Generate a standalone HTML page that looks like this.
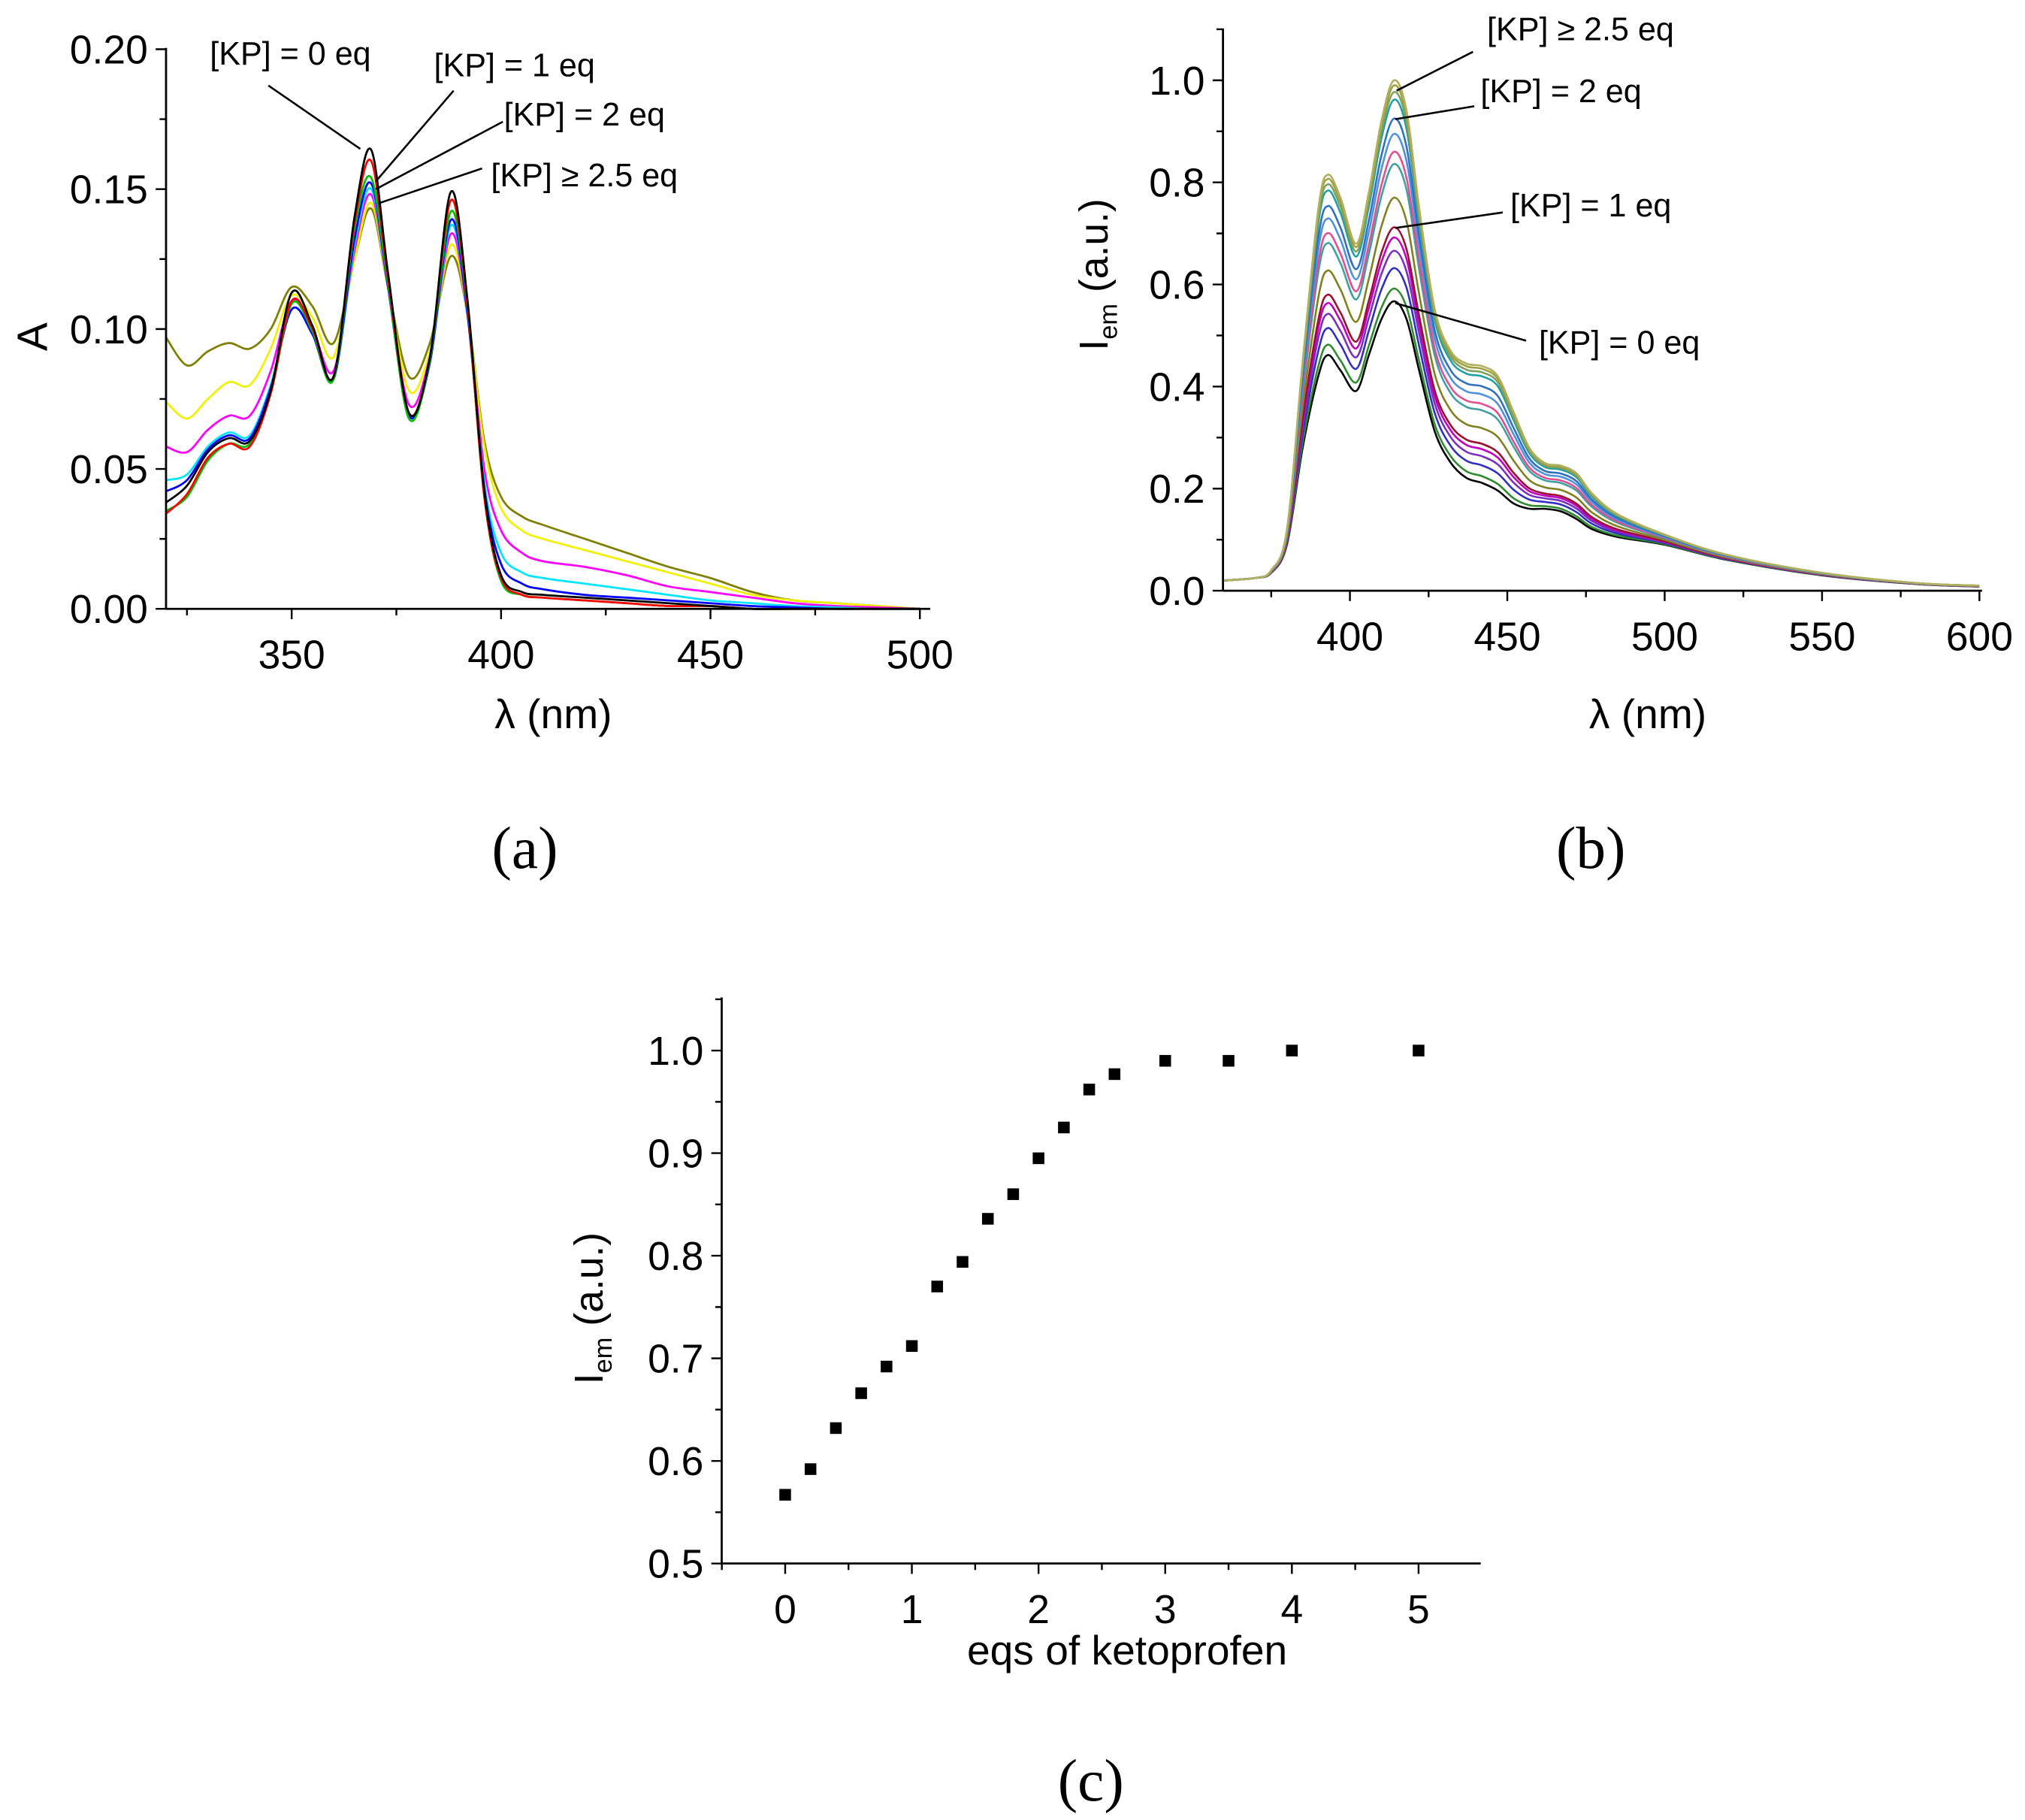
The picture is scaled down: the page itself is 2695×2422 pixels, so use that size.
<!DOCTYPE html>
<html><head><meta charset="utf-8"><style>
html,body{margin:0;padding:0;background:#fff}
svg{display:block}
text{font-family:"Liberation Sans",sans-serif;fill:#000}
.cap{font-family:"Liberation Serif",serif}
</style></head><body>
<svg id="fig" width="2695" height="2422" viewBox="0 0 1563 1405">
<g id="pa"></g>
<g id="pb"></g>
<g id="pc"></g>
<text class="cap" x="405" y="670" font-size="46" text-anchor="middle">(a)</text>
<text class="cap" x="1228" y="670" font-size="46" text-anchor="middle">(b)</text>
<text class="cap" x="842" y="1390" font-size="46" text-anchor="middle">(c)</text>
</svg>
<script>
// ---------- Panel A data ----------
const waveA=[320,325,330,335,340,345,350,355,360,365,369,373,378,383,388,392,396,400,405,410,420,430,440,450,460,470,480,490,500];
const absOlive=[.097,.087,.092,.095,.093,.100,.115,.108,.095,.125,.143,.115,.083,.095,.126,.105,.060,.040,.033,.030,.025,.020,.015,.011,.006,.003,.002,.001,0];
const absYellow=[.074,.068,.075,.081,.080,.093,.112,.104,.090,.125,.145,.115,.078,.092,.130,.105,.058,.036,.028,.025,.021,.017,.013,.009,.005,.003,.002,.001,0];
const absMagenta=[.058,.056,.064,.069,.069,.085,.110,.100,.085,.128,.148,.115,.073,.090,.134,.105,.050,.028,.020,.017,.015,.012,.008,.006,.004,.002,.001,.0005,0];
const absCyan=[.046,.048,.058,.063,.062,.080,.107,.098,.082,.130,.150,.115,.070,.088,.137,.105,.045,.020,.013,.011,.009,.007,.005,.003,.002,.001,.0005,0,0];
const absBlue=[.042,.046,.057,.062,.061,.079,.107,.098,.082,.132,.152,.115,.069,.088,.139,.105,.043,.016,.009,.007,.005,.004,.003,.002,.001,.0005,0,0,0];
const absGreen=[.035,.040,.053,.059,.059,.077,.109,.099,.082,.136,.154,.116,.068,.089,.142,.107,.040,.010,.005,.004,.003,.002,.001,.001,0,0,0,0,0];
const absRed=[.034,.041,.054,.059,.058,.077,.110,.100,.083,.138,.160,.118,.070,.090,.146,.108,.040,.011,.005,.004,.003,.002,.001,.001,0,0,0,0,0];
const absBlack=[.038,.044,.056,.061,.060,.078,.113,.101,.083,.140,.164,.120,.070,.090,.149,.110,.042,.012,.006,.005,.004,.003,.002,.001,0,0,0,0,0];
const seriesA=[[absOlive,'#7f7f00'],[absYellow,'#f0f000'],[absMagenta,'#ff00ff'],[absCyan,'#00e5ff'],[absBlue,'#0000ff'],[absGreen,'#00c000'],[absRed,'#ff0000'],[absBlack,'#000000']];
const ticksAx=[350,400,450,500];
const ticksAy=[0,0.05,0.10,0.15,0.20];

// ---------- Panel B data ----------
const waveB=[360,370,375,380,385,390,393,397,402,406,410,414,418,422,427,432,437,442,447,452,457,462,467,472,477,485,500,520,550,580,600];
const emTop=[.02,.025,.04,.12,.45,.75,.815,.77,.68,.78,.92,1.0,.94,.75,.55,.47,.445,.44,.42,.35,.28,.25,.245,.23,.19,.15,.11,.07,.035,.015,.01];
const emBottom=[.02,.025,.035,.09,.28,.42,.46,.43,.39,.46,.53,.565,.53,.43,.31,.25,.22,.21,.195,.17,.16,.16,.155,.14,.12,.105,.09,.06,.03,.013,.008];
const emPeaks=[0.567,0.592,0.632,0.666,0.692,0.712,0.770,0.836,0.860,0.895,0.925,0.962,0.977,0.99,1.0];
const emColors=['#000000','#2e8b2e','#3030c0','#7b2fbf','#c000c0','#9b1030','#808020','#40a0a0','#e05090','#5090e0','#3070c0','#20a0a0','#80a060','#a0a040','#b0b060'];
const ticksBx=[400,450,500,550,600];
const ticksBy=[0,0.2,0.4,0.6,0.8,1.0];

// ---------- Panel C data ----------
const eqs=[0,0.2,0.4,0.6,0.8,1,1.2,1.4,1.6,1.8,2,2.2,2.4,2.6,3,3.5,4,5];
const intens=[0.567,0.592,0.632,0.666,0.692,0.712,0.770,0.794,0.836,0.860,0.895,0.925,0.962,0.977,0.990,0.990,1.0,1.0];
const ticksCx=[0,1,2,3,4,5];
const ticksCy=[0.5,0.6,0.7,0.8,0.9,1.0];

const NS='http://www.w3.org/2000/svg';
function mk(p,tag,attrs){const e=document.createElementNS(NS,tag);for(const k in attrs)e.setAttribute(k,attrs[k]);p.appendChild(e);return e;}
function lin(d0,d1,r0,r1){return v=>r0+(v-d0)*(r1-r0)/(d1-d0);}
function smooth(pts){let d='M'+pts[0][0].toFixed(2)+','+pts[0][1].toFixed(2);
 for(let i=0;i<pts.length-1;i++){const p0=pts[Math.max(0,i-1)],p1=pts[i],p2=pts[i+1],p3=pts[Math.min(pts.length-1,i+2)];
  const c1=[p1[0]+(p2[0]-p0[0])/6,p1[1]+(p2[1]-p0[1])/6],c2=[p2[0]-(p3[0]-p1[0])/6,p2[1]-(p3[1]-p1[1])/6];
  d+=`C${c1[0].toFixed(2)},${c1[1].toFixed(2)} ${c2[0].toFixed(2)},${c2[1].toFixed(2)} ${p2[0].toFixed(2)},${p2[1].toFixed(2)}`;}
 return d;}
function txt(g,x,y,s,size,anchor,name){const t=mk(g,'text',{x:x,y:y,'font-size':size,'text-anchor':anchor||'middle'});t.textContent=s;
 
 
 return t;}
function axes(g,x0,x1,y0,y1,xs,ys,xt,yt,fmtX,fmtY,xminor,yminor){
 const ax=mk(g,'path',{d:`M${x0},${y0}V${y1}M${x0},${y1}H${x1}`,stroke:'#000','stroke-width':1.6,fill:'none'});
 
 
 let d='';
 xt.forEach(v=>{const x=xs(v);d+=`M${x},${y1}v8`;txt(g,x,y1+46,fmtX(v),31,'middle','x-tick-label');});
 yt.forEach(v=>{const y=ys(v);d+=`M${x0},${y}h-8`;txt(g,x0-14,y+11,fmtY(v),31,'end','y-tick-label');});
 xminor.forEach(v=>{d+=`M${xs(v)},${y1}v5`;});
 yminor.forEach(v=>{d+=`M${x0},${ys(v)}h-5`;});
 const tk=mk(g,'path',{d:d,stroke:'#000','stroke-width':1.4,fill:'none'});
 
 
}
function leader(g,x1,y1,x2,y2){const l=mk(g,'line',{x1:x1,y1:y1,x2:x2,y2:y2,stroke:'#000','stroke-width':1.5});
 
 }
function ylabel(g,x,y){const yt=mk(g,'text',{x:x,y:y,'font-size':31,'text-anchor':'middle',transform:`rotate(-90 ${x} ${y})`});
 yt.innerHTML='I<tspan font-size="20" dy="7">em</tspan><tspan dy="-7"> (a.u.)</tspan>';
 
 }

// ---------- Panel A ----------
(function(){
 const g=document.getElementById('pa');
 const xs=lin(320,350,128,225), ys=lin(0,0.05,470,362);
 seriesA.forEach(([arr,c])=>{const p=mk(g,'path',{d:smooth(waveA.map((w,i)=>[xs(w),ys(arr[i])])),stroke:c,'stroke-width':1.6,fill:'none'});
  
  });
 axes(g,128,718,37,470,xs,ys,ticksAx,ticksAy,v=>v,v=>v.toFixed(2),[325,375,425,475],[0.025,0.075,0.125,0.175]);
 txt(g,427,562,'λ (nm)',32,'middle','x-axis-title');
 const yt=txt(g,36,260,'A',33,'middle','y-axis-title');yt.setAttribute('transform','rotate(-90 36 260)');
 txt(g,224,50,'[KP] = 0 eq',25,'middle','label-0-eq');
 txt(g,397,59,'[KP] = 1 eq',25,'middle','label-1-eq');
 txt(g,451,97,'[KP] = 2 eq',25,'middle','label-2-eq');
 txt(g,451,144,'[KP] ≥ 2.5 eq',25,'middle','label-2-5-eq');
 leader(g,207,66,278,115);leader(g,350,70,290,140);leader(g,388,94,290,146);leader(g,372,130,292,157);
})();

// ---------- Panel B ----------
(function(){
 const g=document.getElementById('pb');
 const xs=lin(400,600,1042,1528), ys=lin(0,1,456,62);
 emPeaks.forEach((pk,j)=>{const t=(pk-0.565)/(1-0.565);
  const pts=waveB.map((w,i)=>[xs(w),ys(emBottom[i]+t*(emTop[i]-emBottom[i]))]);
  const p=mk(g,'path',{d:smooth(pts),stroke:emColors[j],'stroke-width':1.5,fill:'none'});
  
  });
 axes(g,944,1530,22,456,xs,ys,ticksBx,ticksBy,v=>v,v=>v.toFixed(1),[375,425,475,525,575],[0.1,0.3,0.5,0.7,0.9,1.1]);
 txt(g,1272,562,'λ (nm)',32,'middle','x-axis-title');
 ylabel(g,855,212);
 txt(g,1220,31,'[KP] ≥ 2.5 eq',25,'middle','label-2-5-eq');
 txt(g,1205,79,'[KP] = 2 eq',25,'middle','label-2-eq');
 txt(g,1228,167,'[KP] = 1 eq',25,'middle','label-1-eq');
 txt(g,1250,273,'[KP] = 0 eq',25,'middle','label-0-eq');
 leader(g,1137,40,1078,70);leader(g,1138,82,1077,92);leader(g,1160,164,1077,176);leader(g,1178,263,1077,234);
})();

// ---------- Panel C ----------
(function(){
 const g=document.getElementById('pc');
 const xs=lin(0,5,606,1095), ys=lin(0.5,1.0,1207,811);
 eqs.forEach((e,i)=>{const r=mk(g,'rect',{x:xs(e)-4.5,y:ys(intens[i])-4.5,width:9,height:9,fill:'#000'});
  
  });
 axes(g,557,1143,770,1207,xs,ys,ticksCx,ticksCy,v=>v,v=>v.toFixed(1),[-0.5,0.5,1.5,2.5,3.5,4.5],[0.55,0.65,0.75,0.85,0.95,1.05]);
 txt(g,870,1285,'eqs of ketoprofen',32,'middle','x-axis-title');
 ylabel(g,465,1010);
})();
</script>
</body></html>
